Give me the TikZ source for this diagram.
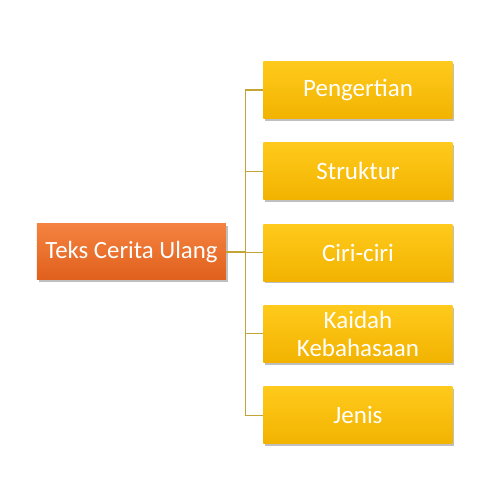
\documentclass[tikz,border=0pt]{standalone}
\usepackage{fontspec}
\setmainfont{Carlito}
\usetikzlibrary{positioning,shadows}

\definecolor{orangeTop}{HTML}{F58240}
\definecolor{orangeBot}{HTML}{E0601C}
\definecolor{goldTop}{HTML}{FFCA1C}
\definecolor{goldBot}{HTML}{F2B300}
\definecolor{linkGold}{HTML}{C2A536}

\begin{document}
\begin{tikzpicture}[
        topik/.style = {rectangle, minimum width=94.5pt, minimum height=28pt,
                top color=orangeTop, bottom color=orangeBot, text=white,
                font=\fontsize{12.4pt}{13pt}\selectfont, align=center,
                drop shadow={shadow xshift=0.8pt, shadow yshift=-1.2pt, opacity=0.25, fill=black}}, % kotak utama
        bagian/.style = {rectangle, minimum width=94.5pt, minimum height=28.5pt, inner sep=0pt,
                top color=goldTop, bottom color=goldBot, text=white,
                font=\fontsize{12.5pt}{14.3pt}\selectfont, align=center,
                drop shadow={shadow xshift=0.8pt, shadow yshift=-1.2pt, opacity=0.25, fill=black}}, % kotak cabang
        hubung/.style = {draw=linkGold, line width=0.6pt},
        node distance=11.75pt,
    ]
    \useasboundingbox (0,0) rectangle (250pt,-243.5pt);

    \node[topik] (teks) at (65.75pt,-126pt) {Teks Cerita Ulang};

    \node[bagian] (pengertian) at (179pt,-45pt) {Pengertian};
    \node[bagian, below=of pengertian] (struktur) {Struktur};
    \node[bagian, below=of struktur] (ciri) {Ciri-ciri};
    \node[bagian, below=of ciri] (kaidah) {Kaidah\\Kebahasaan};
    \node[bagian, below=of kaidah] (jenis) {Jenis};

    % garis penghubung
    \foreach \b in {pengertian, struktur, ciri, kaidah, jenis}
        \draw[hubung] (teks.east) -- ++(9.5pt,0) |- (\b.west);
\end{tikzpicture}
\end{document}
